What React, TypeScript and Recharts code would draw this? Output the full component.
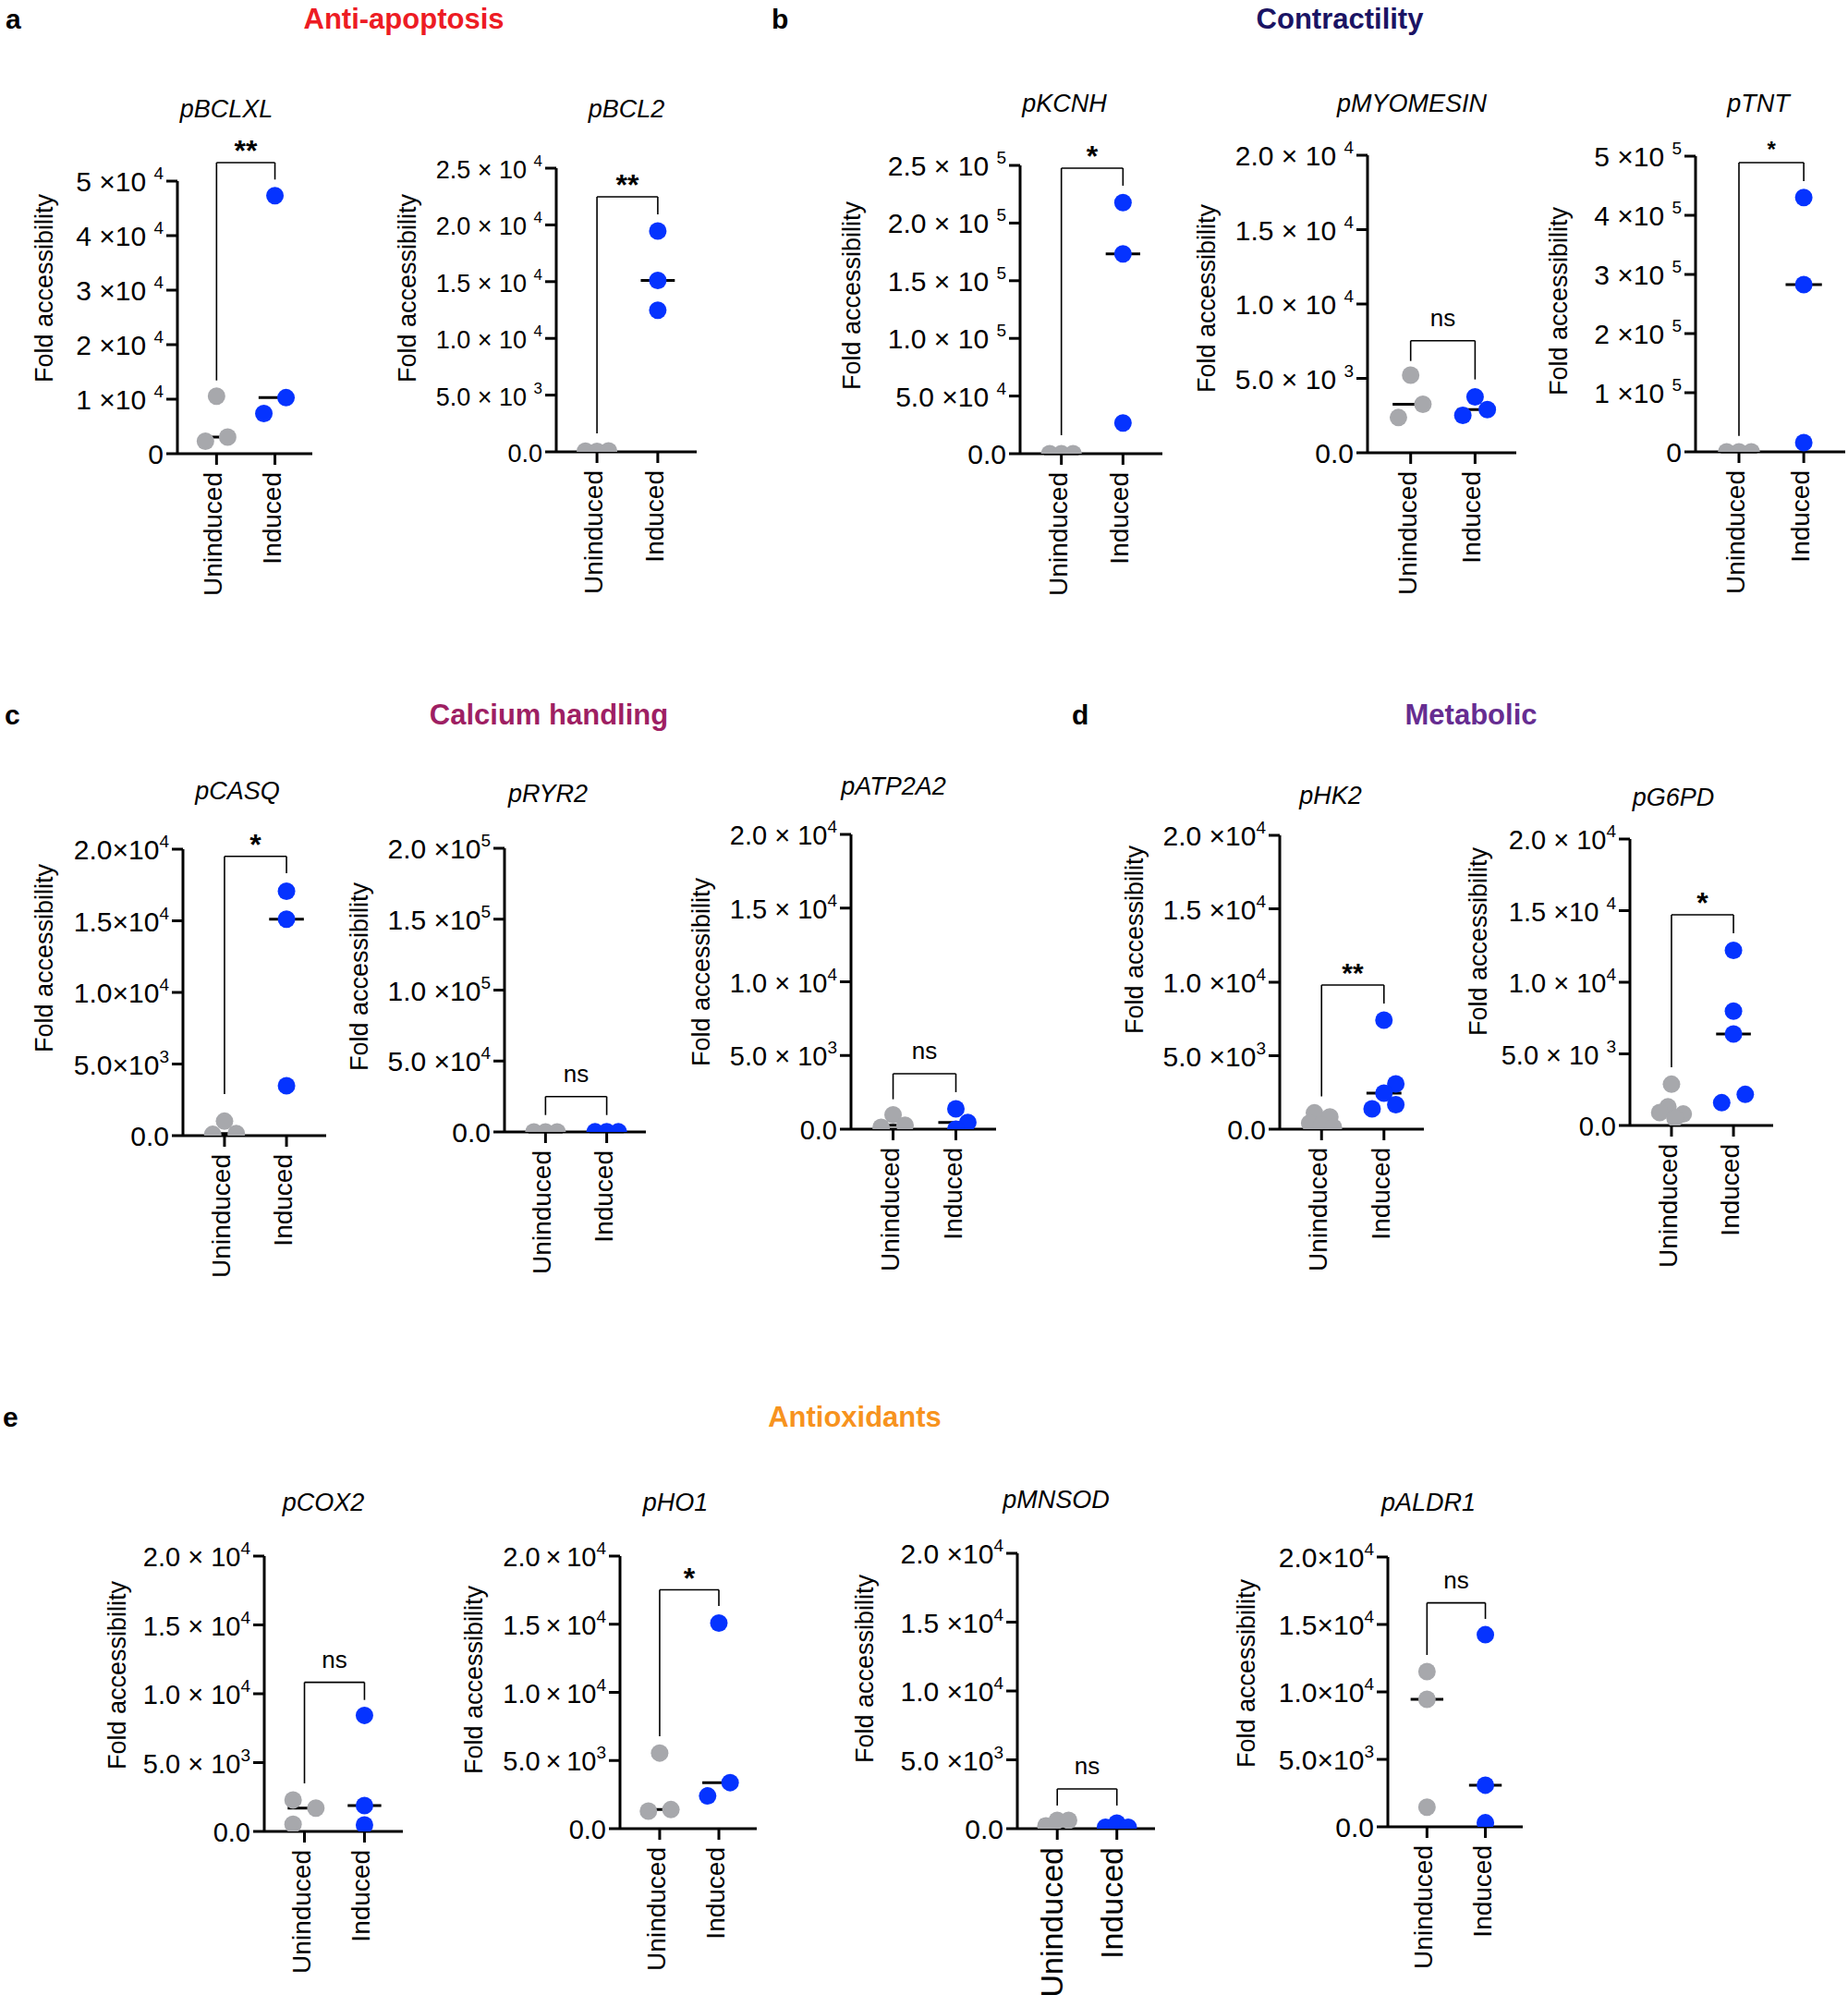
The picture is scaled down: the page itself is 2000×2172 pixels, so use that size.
import React from "react";
import { ScatterChart, Scatter, XAxis, YAxis, ReferenceLine } from "recharts";

const GROUPS = ["Uninduced", "Induced"];
const FONT = "'Liberation Sans', Arial, Helvetica, sans-serif";
const GRAY = "#a7a8ac";
const BLUE = "#0533ff";

// fold accessibility values
const BCLXL_U = [10560, 2280, 3060];
const BCLXL_I = [47330, 7360, 10280];
const BCL2_U = [60, 40, 80];
const BCL2_I = [19460, 15100, 12480];
const KCNH_U = [0, 0, 0];
const KCNH_I = [217700, 173300, 26700];
const MYOMESIN_U = [5220, 3260, 2370];
const MYOMESIN_I = [3760, 2900, 2510];
const TNT_U = [0, 0, 0];
const TNT_I = [430000, 282800, 15600];
const CASQ_U = [1010, 90, 150];
const CASQ_I = [17070, 15110, 3480];
const RYR2_U = [0, 0, 0];
const RYR2_I = [100, 150, 100];
const ATP2A2_U = [970, 130, 270];
const ATP2A2_I = [1380, 460, 0];
const HK2_U = [1110, 830, 410, 270, 130];
const HK2_I = [7420, 3080, 2450, 1380, 1670];
const G6PD_U = [2880, 1300, 900, 800, 500];
const G6PD_I = [12230, 7980, 6390, 2170, 1590];
const COX2_U = [2290, 1700, 520];
const COX2_I = [8430, 1880, 470];
const HO1_U = [5550, 1290, 1400];
const HO1_I = [15080, 3380, 2400];
const MNSOD_U = [200, 600, 600];
const MNSOD_I = [100, 400, 100];
const ALDR1_U = [11510, 9450, 1460];
const ALDR1_I = [14240, 3090, 300];

// y ticks
const T_5E4 = [0, 10000, 20000, 30000, 40000, 50000];
const T_25E4 = [0, 5000, 10000, 15000, 20000, 25000];
const T_25E5 = [0, 50000, 100000, 150000, 200000, 250000];
const T_2E4 = [0, 5000, 10000, 15000, 20000];
const T_5E5 = [0, 100000, 200000, 300000, 400000, 500000];
const T_2E5 = [0, 50000, 100000, 150000, 200000];

const L_BCLXL = ["0", "1 ×10 ^4", "2 ×10 ^4", "3 ×10 ^4", "4 ×10 ^4", "5 ×10 ^4"];
const L_BCL2 = ["0.0", "5.0 × 10 ^3", "1.0 × 10 ^4", "1.5 × 10 ^4", "2.0 × 10 ^4", "2.5 × 10 ^4"];
const L_KCNH = ["0.0", "5.0 ×10 ^4", "1.0 × 10 ^5", "1.5 × 10 ^5", "2.0 × 10 ^5", "2.5 × 10 ^5"];
const L_MYOMESIN = ["0.0", "5.0 × 10 ^3", "1.0 × 10 ^4", "1.5 × 10 ^4", "2.0 × 10 ^4"];
const L_TNT = ["0", "1 ×10 ^5", "2 ×10 ^5", "3 ×10 ^5", "4 ×10 ^5", "5 ×10 ^5"];
const L_CASQ = ["0.0", "5.0×10^3", "1.0×10^4", "1.5×10^4", "2.0×10^4"];
const L_RYR2 = ["0.0", "5.0 ×10^4", "1.0 ×10^5", "1.5 ×10^5", "2.0 ×10^5"];
const L_SPACED = ["0.0", "5.0 × 10^3", "1.0 × 10^4", "1.5 × 10^4", "2.0 × 10^4"];
const L_HK2 = ["0.0", "5.0 ×10^3", "1.0 ×10^4", "1.5 ×10^4", "2.0 ×10^4"];
const L_G6PD = ["0.0", "5.0 × 10 ^3", "1.0 × 10^4", "1.5 ×10 ^4", "2.0 × 10^4"];
const L_HO1 = ["0.0", "5.0\u2009×\u200910^3", "1.0\u2009×\u200910^4", "1.5\u2009×\u200910^4", "2.0\u2009×\u200910^4"];
const L_TIGHT = ["0.0", "5.0×10^3", "1.0×10^4", "1.5×10^4", "2.0×10^4"];

// significance brackets: [top, left foot, right foot]
const BR_BCLXL = [53390, 13440, 50290];
const BR_BCL2 = [22480, 1630, 20930];
const BR_KCNH = [247600, 16000, 232400];
const BR_MYOMESIN = [7530, 6170, 4930];
const BR_TNT = [489000, 27000, 457800];
const BR_CASQ = [19500, 2900, 18320];
const BR_RYR2 = [24950, 11920, 11920];
const BR_ATP2A2 = [3760, 2030, 2510];
const BR_HK2 = [9810, 2230, 8550];
const BR_G6PD = [14710, 4060, 13420];
const BR_COX2 = [10830, 3490, 9550];
const BR_HO1 = [17530, 6780, 16340];
const BR_MNSOD = [2890, 1680, 1680];
const BR_ALDR1 = [16600, 12740, 15410];

const Y_W = 190;
const M_T = 130;
const M_R = 20;
const X_H = 200;
const X_MIN = 0.33;
const X_MAX = 2.64;
const JIT = 0.19;

type PanelDef = {
  title: string;
  u: number[];
  i: number[];
  ticks: number[];
  labels: string[];
  br: number[];
  sig: string;
  sigFs: number;
  ju: number[];
  ji: number[];
  axisX: number;
  topY: number;
  zeroY: number;
  rightX: number;
  titleX: number;
  titleY: number;
  labX: number;
  labY: number;
  xFs: number;
  tFs: number;
};

const J3 = [-1, 0, 1];
const J0 = [0, 0, 0];

const PANELS: PanelDef[] = [
  { title: "pBCLXL", u: BCLXL_U, i: BCLXL_I, ticks: T_5E4, labels: L_BCLXL, br: BR_BCLXL, sig: "**", sigFs: 32, ju: [0, -1, 1], ji: [0, -1, 1], axisX: 192, topY: 196, zeroY: 491, rightX: 338, titleX: 245, titleY: 118, labX: 48, labY: 312, xFs: 28, tFs: 30 },
  { title: "pBCL2", u: BCL2_U, i: BCL2_I, ticks: T_25E4, labels: L_BCL2, br: BR_BCL2, sig: "**", sigFs: 32, ju: J3, ji: J0, axisX: 602, topY: 182, zeroY: 489, rightX: 754, titleX: 678, titleY: 118, labX: 441, labY: 312, xFs: 28, tFs: 27 },
  { title: "pKCNH", u: KCNH_U, i: KCNH_I, ticks: T_25E5, labels: L_KCNH, br: BR_KCNH, sig: "*", sigFs: 32, ju: J3, ji: J0, axisX: 1104, topY: 179, zeroY: 491, rightX: 1258, titleX: 1152, titleY: 112, labX: 922, labY: 320, xFs: 28, tFs: 30 },
  { title: "pMYOMESIN", u: MYOMESIN_U, i: MYOMESIN_I, ticks: T_2E4, labels: L_MYOMESIN, br: BR_MYOMESIN, sig: "ns", sigFs: 26, ju: [0, 1, -1], ji: [0, 1, -1], axisX: 1480, topY: 168, zeroY: 490, rightX: 1641, titleX: 1528, titleY: 112, labX: 1306, labY: 323, xFs: 28, tFs: 30 },
  { title: "pTNT", u: TNT_U, i: TNT_I, ticks: T_5E5, labels: L_TNT, br: BR_TNT, sig: "*", sigFs: 24, ju: J3, ji: J0, axisX: 1835, topY: 169, zeroY: 489, rightX: 1997, titleX: 1903, titleY: 112, labX: 1687, labY: 326, xFs: 28, tFs: 30 },
  { title: "pCASQ", u: CASQ_U, i: CASQ_I, ticks: T_2E4, labels: L_CASQ, br: BR_CASQ, sig: "*", sigFs: 32, ju: [0, -1, 1], ji: J0, axisX: 198, topY: 919, zeroY: 1229, rightX: 353, titleX: 257, titleY: 856, labX: 48, labY: 1037, xFs: 28, tFs: 30 },
  { title: "pRYR2", u: RYR2_U, i: RYR2_I, ticks: T_2E5, labels: L_RYR2, br: BR_RYR2, sig: "ns", sigFs: 26, ju: J3, ji: J3, axisX: 546, topY: 918, zeroY: 1225, rightX: 699, titleX: 593, titleY: 859, labX: 389, labY: 1057, xFs: 28, tFs: 30 },
  { title: "pATP2A2", u: ATP2A2_U, i: ATP2A2_I, ticks: T_2E4, labels: L_SPACED, br: BR_ATP2A2, sig: "ns", sigFs: 26, ju: [0, -1, 1], ji: [0, 1, 0], axisX: 921, topY: 903, zeroY: 1222, rightX: 1078, titleX: 967, titleY: 851, labX: 759, labY: 1052, xFs: 28, tFs: 29 },
  { title: "pHK2", u: HK2_U, i: HK2_I, ticks: T_2E4, labels: L_HK2, br: BR_HK2, sig: "**", sigFs: 30, ju: [-0.6, 0.7, -1, 0, 1], ji: [0, 1, 0, -1, 1], axisX: 1385, topY: 904, zeroY: 1222, rightX: 1541, titleX: 1440, titleY: 861, labX: 1228, labY: 1017, xFs: 28, tFs: 30 },
  { title: "pG6PD", u: G6PD_U, i: G6PD_I, ticks: T_2E4, labels: L_G6PD, br: BR_G6PD, sig: "*", sigFs: 32, ju: [0, -0.3, -1, 1, 0.3], ji: [0, 0, 0, 1, -1], axisX: 1764, topY: 908, zeroY: 1218, rightX: 1919, titleX: 1811, titleY: 863, labX: 1600, labY: 1019, xFs: 28, tFs: 29 },
  { title: "pCOX2", u: COX2_U, i: COX2_I, ticks: T_2E4, labels: L_SPACED, br: BR_COX2, sig: "ns", sigFs: 26, ju: [-1, 1, -1], ji: J0, axisX: 286, topY: 1684, zeroY: 1982, rightX: 436, titleX: 350, titleY: 1626, labX: 127, labY: 1813, xFs: 28, tFs: 29 },
  { title: "pHO1", u: HO1_U, i: HO1_I, ticks: T_2E4, labels: L_HO1, br: BR_HO1, sig: "*", sigFs: 32, ju: [0, -1, 1], ji: [0, 1, -1], axisX: 671, topY: 1684, zeroY: 1979, rightX: 819, titleX: 731, titleY: 1626, labX: 513, labY: 1818, xFs: 28, tFs: 29 },
  { title: "pMNSOD", u: MNSOD_U, i: MNSOD_I, ticks: T_2E4, labels: L_HK2, br: BR_MNSOD, sig: "ns", sigFs: 26, ju: J3, ji: J3, axisX: 1101, topY: 1681, zeroY: 1979, rightX: 1250, titleX: 1143, titleY: 1623, labX: 936, labY: 1806, xFs: 34, tFs: 30 },
  { title: "pALDR1", u: ALDR1_U, i: ALDR1_I, ticks: T_2E4, labels: L_TIGHT, br: BR_ALDR1, sig: "ns", sigFs: 26, ju: J0, ji: J0, axisX: 1502, topY: 1685, zeroY: 1977, rightX: 1648, titleX: 1546, titleY: 1626, labX: 1349, labY: 1811, xFs: 28, tFs: 30 },
];

const HEADINGS = [
  { letter: "a", lx: 6, text: "Anti-apoptosis", cx: 437, y: 20, color: "#ed1c24" },
  { letter: "b", lx: 835, text: "Contractility", cx: 1450, y: 20, color: "#1b1464" },
  { letter: "c", lx: 5, text: "Calcium handling", cx: 594, y: 773, color: "#9e1f63" },
  { letter: "d", lx: 1160, text: "Metabolic", cx: 1592, y: 773, color: "#662d91" },
  { letter: "e", lx: 3, text: "Antioxidants", cx: 925, y: 1533, color: "#f7931e" },
];

function median(v: number[]) {
  const s = [...v].sort((a, b) => a - b);
  const m = Math.floor(s.length / 2);
  return s.length % 2 ? s[m] : (s[m - 1] + s[m]) / 2;
}

function YTick(props: any) {
  const { x, y, payload, ticks, labels, fs } = props;
  const lab: string = labels[ticks.indexOf(payload.value)] ?? "";
  const [base, exp] = lab.split("^");
  return (
    <text x={x - 1} y={y + 11} textAnchor="end" fontFamily={FONT} fontSize={fs} fill="#000">
      <tspan>{base}</tspan>
      {exp !== undefined && (
        <tspan dy={-13} fontSize={Math.round(fs * 0.64)}>
          {exp}
        </tspan>
      )}
    </text>
  );
}

function XTick(props: any) {
  const { x, y, payload, fs } = props;
  const ax = x + 6;
  const ay = y + 6;
  return (
    <text x={ax} y={ay} transform={`rotate(-90 ${ax} ${ay})`} textAnchor="end" fontFamily={FONT} fontSize={fs} fill="#000">
      {GROUPS[payload.value - 1]}
    </text>
  );
}

const dot = (color: string) => (p: any) => <circle cx={p.cx} cy={p.cy} r={9.5} fill={color} />;

const AX = { stroke: "#000", strokeWidth: 3 };
const BR = { stroke: "#000", strokeWidth: 1.6 };

function Panel({ p }: { p: PanelDef }) {
  const plotW = p.rightX - p.axisX;
  const plotH = p.zeroY - p.topY;
  const W = Y_W + plotW + M_R;
  const H = M_T + plotH + X_H;
  const ymax = p.ticks[p.ticks.length - 1];
  const uData = p.u.map((v, k) => ({ x: 1 + p.ju[k] * JIT, y: v }));
  const iData = p.i.map((v, k) => ({ x: 2 + p.ji[k] * JIT, y: v }));
  const mu = median(p.u);
  const mi = median(p.i);
  const [top, lf, rf] = p.br;
  const isStar = p.sig.includes("*");
  const sigOffset = isStar ? 20 - 0.575 * p.sigFs : 16;
  return (
    <div style={{ position: "absolute", left: p.axisX - Y_W, top: p.topY - M_T }}>
      <ScatterChart width={W} height={H} margin={{ top: M_T, right: M_R, bottom: 0, left: 0 }} style={{ overflow: "visible" }}>
        <XAxis
          type="number"
          dataKey="x"
          domain={[X_MIN, X_MAX]}
          ticks={[1, 2]}
          allowDataOverflow
          height={X_H}
          tickSize={12}
          axisLine={AX}
          tickLine={AX}
          tick={(t: any) => <XTick {...t} fs={p.xFs} />}
        />
        <YAxis
          type="number"
          dataKey="y"
          domain={[0, ymax]}
          ticks={p.ticks}
          interval={0}
          allowDataOverflow
          width={Y_W}
          tickSize={12}
          axisLine={AX}
          tickLine={AX}
          tick={(t: any) => <YTick {...t} ticks={p.ticks} labels={p.labels} fs={p.tFs} />}
        />
        <ReferenceLine segment={[{ x: 1, y: lf }, { x: 1, y: top }]} {...BR} ifOverflow="visible" />
        <ReferenceLine
          segment={[{ x: 1, y: top }, { x: 2, y: top }]}
          {...BR}
          ifOverflow="visible"
          label={{
            value: p.sig,
            position: "top",
            offset: sigOffset,
            fill: "#000",
            fontSize: p.sigFs,
            fontWeight: isStar ? "bold" : "normal",
            fontFamily: FONT,
          }}
        />
        <ReferenceLine segment={[{ x: 2, y: top }, { x: 2, y: rf }]} {...BR} ifOverflow="visible" />
        <ReferenceLine segment={[{ x: 0.72, y: mu }, { x: 1.28, y: mu }]} stroke="#000" strokeWidth={3} ifOverflow="visible" />
        <ReferenceLine segment={[{ x: 1.72, y: mi }, { x: 2.28, y: mi }]} stroke="#000" strokeWidth={3} ifOverflow="visible" />
        <Scatter data={uData} fill={GRAY} shape={dot(GRAY)} isAnimationActive={false} />
        <Scatter data={iData} fill={BLUE} shape={dot(BLUE)} isAnimationActive={false} />
      </ScatterChart>
    </div>
  );
}

export default function App() {
  return (
    <div style={{ position: "absolute", left: 0, top: 0, width: 2000, height: 2172, background: "#fff", overflow: "hidden" }}>
      {PANELS.map((p) => (
        <Panel key={p.title} p={p} />
      ))}
      <svg width={2000} height={2172} style={{ position: "absolute", left: 0, top: 0, pointerEvents: "none" }}>
        {HEADINGS.map((h) => (
          <g key={h.letter}>
            <text x={h.lx} y={h.y} dominantBaseline="central" fontFamily={FONT} fontWeight="bold" fontSize={30} fill="#000">
              {h.letter}
            </text>
            <text x={h.cx} y={h.y} textAnchor="middle" dominantBaseline="central" fontFamily={FONT} fontWeight="bold" fontSize={31} fill={h.color}>
              {h.text}
            </text>
          </g>
        ))}
        {PANELS.map((p) => (
          <g key={p.title}>
            <text x={p.titleX} y={p.titleY} textAnchor="middle" dominantBaseline="central" fontFamily={FONT} fontStyle="italic" fontSize={27} fill="#000">
              {p.title}
            </text>
            <text
              x={p.labX}
              y={p.labY}
              transform={`rotate(-90 ${p.labX} ${p.labY})`}
              textAnchor="middle"
              dominantBaseline="central"
              fontFamily={FONT}
              fontSize={27}
              fill="#000"
            >
              Fold accessibility
            </text>
          </g>
        ))}
      </svg>
    </div>
  );
}
